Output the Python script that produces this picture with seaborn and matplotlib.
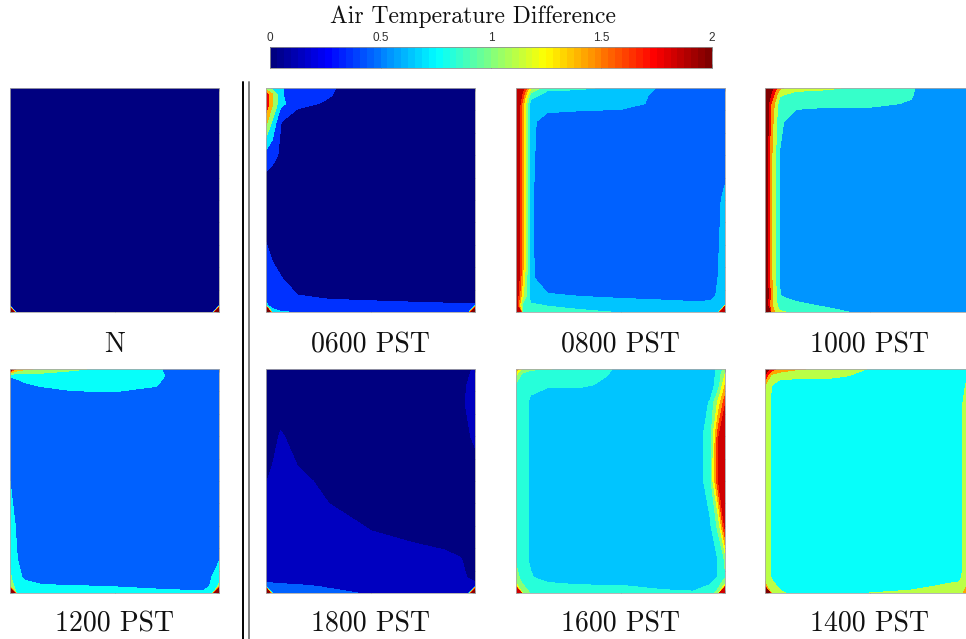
import numpy as np
import matplotlib
matplotlib.use("Agg")
import matplotlib.pyplot as plt
from matplotlib.colors import ListedColormap, Normalize
from matplotlib.lines import Line2D
from matplotlib.cm import ScalarMappable
import seaborn as sns

sns.set_theme(style="white")
plt.rcParams["axes.unicode_minus"] = False

# ---------------------------------------------------------------- data ----
# node positions across / down each square domain (0 = left / top edge)
grid_x = [0, 0.03, 0.07, 0.15, 0.3, 0.5, 0.7, 0.85, 0.93, 0.97, 1.0]
grid_y = [0, 0.03, 0.07, 0.15, 0.3, 0.5, 0.7, 0.85, 0.93, 0.97, 1.0]

panel_titles = ["N", "0600 PST", "0800 PST", "1000 PST",
                "1200 PST", "1800 PST", "1600 PST", "1400 PST"]
colorbar_ticks = [0, 0.5, 1, 1.5, 2]
colorbar_labels = ["0", "0.5", "1", "1.5", "2"]

# contour levels of each panel
levels_n = [0, 0.2, 0.4, 0.6, 0.8, 1.0, 1.2, 1.4, 1.6, 1.8, 2.0]
levels_0600 = [0, 0.35, 0.7, 1.05, 1.4, 1.75, 2.1]
levels_0800 = [0.45, 0.65, 0.85, 1.05, 1.25, 1.45, 1.65, 1.85]
levels_1000 = [0.55, 0.85, 1.15, 1.45, 1.75, 2.05]
levels_1200 = [0.45, 0.75, 1.05, 1.35, 1.65, 1.95]
levels_1800 = [0, 0.15, 0.45, 0.75, 1.05, 1.35, 1.65, 1.95]
levels_1600 = [0.625, 0.825, 1.025, 1.225, 1.425, 1.625, 1.825]
levels_1400 = [0.78, 1.1, 1.42, 1.74, 2.06]

# air temperature difference at the nodes, rows from top to bottom
temp_n = [
    [0, 0, 0, 0, 0, 0, 0, 0, 0, 0, 0],
    [0, 0, 0, 0, 0, 0, 0, 0, 0, 0, 0],
    [0, 0, 0, 0, 0, 0, 0, 0, 0, 0, 0],
    [0, 0, 0, 0, 0, 0, 0, 0, 0, 0, 0],
    [0, 0, 0, 0, 0, 0, 0, 0, 0, 0, 0],
    [0, 0, 0, 0, 0, 0, 0, 0, 0, 0, 0],
    [0, 0, 0, 0, 0, 0, 0, 0, 0, 0, 0],
    [0, 0, 0, 0, 0, 0, 0, 0, 0, 0, 0],
    [0, 0, 0, 0, 0, 0, 0, 0, 0, 0, 0],
    [0, 0, 0, 0, 0, 0, 0, 0, 0, 0, 0],
    [5, 0, 0, 0, 0, 0, 0, 0, 0, 0, 5],
]
temp_0600 = [
    [1.2, 0.9, 0.75, 0.45, 0.4, 0.1, 0, 0, 0, 0, 0],
    [2.0, 1.45, 0.75, 0.45, 0.38, 0.05, 0, 0, 0, 0, 0],
    [2.0, 1.45, 0.8, 0.45, 0.3, 0, 0, 0, 0, 0, 0],
    [1.5, 1.0, 0.36, 0.1, 0, 0, 0, 0, 0, 0, 0],
    [0.55, 0.45, 0.3, 0, 0, 0, 0, 0, 0, 0, 0],
    [0, 0, 0, 0, 0, 0, 0, 0, 0, 0, 0],
    [0.37, 0.2, 0, 0, 0, 0, 0, 0, 0, 0, 0],
    [0.6, 0.5, 0.38, 0.1, 0, 0, 0, 0, 0, 0, 0],
    [0.6, 0.55, 0.5, 0.37, 0.3, 0.25, 0.22, 0.2, 0.2, 0.2, 0.2],
    [0.75, 0.6, 0.5, 0.48, 0.45, 0.45, 0.42, 0.4, 0.4, 0.38, 0.4],
    [5, 0.8, 0.72, 0.68, 0.55, 0.5, 0.48, 0.45, 0.45, 0.5, 5],
]
temp_0800 = [
    [2.4, 2.0, 1.3, 0.9, 0.88, 0.8, 0.62, 0.55, 0.55, 0.55, 0.55],
    [2.3, 1.8, 0.95, 0.78, 0.76, 0.75, 0.6, 0.5, 0.5, 0.5, 0.5],
    [2.3, 1.6, 0.75, 0.75, 0.75, 0.72, 0.6, 0.5, 0.5, 0.5, 0.5],
    [2.2, 1.6, 0.7, 0.55, 0.5, 0.5, 0.5, 0.5, 0.5, 0.5, 0.5],
    [2.2, 1.6, 0.7, 0.5, 0.5, 0.5, 0.5, 0.5, 0.5, 0.5, 0.55],
    [2.2, 1.6, 0.68, 0.5, 0.5, 0.5, 0.5, 0.5, 0.5, 0.62, 0.7],
    [2.2, 1.6, 0.68, 0.5, 0.5, 0.5, 0.5, 0.5, 0.55, 0.64, 0.75],
    [2.2, 1.5, 0.7, 0.5, 0.5, 0.5, 0.5, 0.5, 0.55, 0.66, 0.8],
    [2.1, 1.3, 0.75, 0.68, 0.65, 0.62, 0.6, 0.58, 0.6, 0.68, 0.8],
    [2.0, 1.0, 0.88, 0.84, 0.8, 0.75, 0.72, 0.7, 0.7, 0.75, 0.85],
    [5, 1.0, 0.95, 0.92, 0.88, 0.84, 0.8, 0.78, 0.8, 0.85, 5],
]
temp_1000 = [
    [2.6, 2.2, 1.5, 1.3, 1.22, 1.0, 0.88, 0.6, 0.6, 0.6, 0.6],
    [2.5, 2.0, 1.2, 1.0, 0.95, 0.9, 0.87, 0.58, 0.58, 0.58, 0.58],
    [2.5, 1.7, 1.0, 0.92, 0.9, 0.9, 0.83, 0.55, 0.55, 0.55, 0.55],
    [2.5, 1.6, 0.9, 0.7, 0.65, 0.65, 0.55, 0.55, 0.55, 0.55, 0.55],
    [2.5, 1.5, 0.84, 0.6, 0.55, 0.55, 0.55, 0.55, 0.55, 0.55, 0.55],
    [2.5, 1.5, 0.84, 0.56, 0.55, 0.55, 0.55, 0.55, 0.55, 0.55, 0.55],
    [2.5, 1.5, 0.84, 0.56, 0.55, 0.55, 0.55, 0.55, 0.55, 0.55, 0.55],
    [2.5, 1.5, 0.84, 0.56, 0.55, 0.55, 0.55, 0.55, 0.55, 0.55, 0.55],
    [2.5, 1.6, 0.86, 0.75, 0.65, 0.58, 0.55, 0.55, 0.55, 0.55, 0.6],
    [2.4, 1.5, 1.0, 0.92, 0.8, 0.65, 0.58, 0.55, 0.55, 0.58, 0.7],
    [5, 1.6, 1.2, 1.05, 0.95, 0.75, 0.62, 0.6, 0.6, 0.7, 5],
]
temp_1200 = [
    [2.3, 1.6, 1.4, 1.3, 1.1, 0.95, 0.8, 0.5, 0.5, 0.5, 0.5],
    [0.78, 0.8, 0.85, 0.9, 0.9, 0.9, 0.85, 0.48, 0.45, 0.45, 0.45],
    [0.6, 0.65, 0.72, 0.78, 0.85, 0.85, 0.77, 0.45, 0.45, 0.45, 0.45],
    [0.5, 0.5, 0.5, 0.5, 0.55, 0.6, 0.55, 0.45, 0.45, 0.45, 0.45],
    [0.5, 0.45, 0.45, 0.45, 0.45, 0.45, 0.45, 0.45, 0.45, 0.45, 0.45],
    [0.75, 0.6, 0.5, 0.45, 0.45, 0.45, 0.45, 0.45, 0.45, 0.45, 0.45],
    [0.9, 0.72, 0.5, 0.45, 0.45, 0.45, 0.45, 0.45, 0.45, 0.45, 0.45],
    [1.0, 0.78, 0.55, 0.45, 0.45, 0.45, 0.45, 0.45, 0.45, 0.5, 0.72],
    [1.1, 0.85, 0.7, 0.55, 0.5, 0.48, 0.46, 0.45, 0.5, 0.78, 0.95],
    [1.2, 0.95, 0.85, 0.8, 0.77, 0.74, 0.68, 0.6, 0.58, 0.85, 1.1],
    [5, 1.0, 0.92, 0.9, 0.88, 0.86, 0.85, 0.85, 0.88, 1.0, 5],
]
temp_1800 = [
    [0, 0, 0, 0, 0, 0, 0, 0, 0, 0.1, 0.2],
    [0, 0, 0, 0, 0, 0, 0, 0, 0.05, 0.14, 0.22],
    [0, 0, 0, 0, 0, 0, 0, 0, 0.08, 0.17, 0.25],
    [0, 0, 0, 0, 0, 0, 0, 0, 0.1, 0.19, 0.28],
    [0, 0.05, 0.18, 0.05, 0, 0, 0, 0, 0.05, 0.13, 0.2],
    [0.14, 0.2, 0.25, 0.2, 0.1, 0, 0, 0, 0, 0, 0],
    [0.25, 0.25, 0.24, 0.22, 0.2, 0.14, 0.1, 0.05, 0, 0, 0],
    [0.25, 0.25, 0.24, 0.23, 0.22, 0.21, 0.2, 0.19, 0.16, 0.1, 0.05],
    [0.28, 0.26, 0.25, 0.24, 0.23, 0.22, 0.2, 0.2, 0.18, 0.14, 0.1],
    [0.6, 0.56, 0.53, 0.5, 0.42, 0.3, 0.28, 0.25, 0.22, 0.2, 0.2],
    [5, 0.6, 0.58, 0.56, 0.52, 0.42, 0.3, 0.25, 0.22, 0.25, 5],
]
temp_1600 = [
    [1.6, 1.15, 1.05, 1.04, 0.92, 0.8, 0.6, 0.6, 0.7, 0.9, 1.1],
    [1.2, 0.95, 0.9, 0.88, 0.88, 0.8, 0.6, 0.6, 0.7, 0.92, 1.25],
    [1.0, 0.9, 0.86, 0.85, 0.85, 0.78, 0.6, 0.6, 0.7, 0.95, 1.4],
    [0.95, 0.88, 0.8, 0.7, 0.7, 0.62, 0.62, 0.63, 0.85, 1.3, 1.75],
    [0.95, 0.88, 0.8, 0.63, 0.62, 0.62, 0.62, 0.66, 0.95, 1.8, 2.4],
    [0.95, 0.88, 0.8, 0.63, 0.62, 0.62, 0.62, 0.64, 0.95, 1.85, 2.4],
    [0.95, 0.88, 0.8, 0.63, 0.62, 0.62, 0.62, 0.62, 0.8, 1.1, 1.9],
    [1.0, 0.88, 0.8, 0.63, 0.62, 0.62, 0.62, 0.62, 0.7, 0.84, 1.05],
    [1.1, 0.95, 0.84, 0.75, 0.7, 0.66, 0.64, 0.64, 0.72, 0.85, 1.0],
    [1.3, 1.05, 0.95, 0.88, 0.85, 0.84, 0.78, 0.76, 0.85, 1.0, 1.3],
    [5, 1.2, 1.0, 0.95, 0.92, 0.9, 0.87, 0.85, 0.95, 1.1, 5],
]
temp_1400 = [
    [2.4, 1.9, 1.6, 1.45, 1.35, 1.08, 0.95, 0.9, 0.95, 1.0, 1.1],
    [2.0, 1.3, 1.22, 1.2, 1.2, 1.0, 0.85, 0.82, 0.9, 1.05, 1.3],
    [1.45, 1.12, 0.95, 0.9, 0.88, 0.85, 0.8, 0.8, 0.95, 1.15, 1.5],
    [1.3, 1.05, 0.9, 0.85, 0.8, 0.8, 0.8, 0.8, 0.95, 1.3, 1.6],
    [1.3, 1.05, 0.9, 0.85, 0.8, 0.8, 0.8, 0.8, 0.95, 1.3, 1.6],
    [1.3, 1.05, 0.9, 0.85, 0.8, 0.8, 0.8, 0.8, 0.95, 1.3, 1.6],
    [1.3, 1.05, 0.9, 0.85, 0.8, 0.8, 0.8, 0.8, 0.95, 1.3, 1.6],
    [1.3, 1.05, 0.9, 0.85, 0.8, 0.8, 0.8, 0.8, 0.95, 1.3, 1.6],
    [1.35, 1.08, 0.95, 0.85, 0.8, 0.8, 0.82, 0.9, 1.0, 1.35, 1.6],
    [1.5, 1.2, 1.05, 0.9, 0.85, 0.88, 0.97, 1.15, 1.2, 1.45, 1.7],
    [5, 1.3, 1.15, 1.0, 0.9, 1.1, 1.2, 1.3, 1.35, 1.5, 5],
]

panel_fields = [temp_n, temp_0600, temp_0800, temp_1000,
                temp_1200, temp_1800, temp_1600, temp_1400]
panel_levels = [levels_n, levels_0600, levels_0800, levels_1000,
                levels_1200, levels_1800, levels_1600, levels_1400]

# ------------------------------------------------------------- styling ----
W, H = 966, 639
fig = plt.figure(figsize=(W / 100, H / 100), dpi=100, facecolor="white")

# 64-step jet built from its anchor colours (one every eighth of the range)
jet_anchors = ["#000080", "#0000ff", "#0080ff", "#00ffff", "#80ff80",
               "#ffff00", "#ff8000", "#ff0000", "#800000"]
jet64 = ListedColormap(sns.blend_palette(jet_anchors, n_colors=64))
norm = Normalize(vmin=0, vmax=2, clip=True)


def fig_box(left, top, width, height):
    return [left / W, 1 - (top + height) / H, width / W, height / H]


col_left = [10, 266, 516, 765]
row_top = [88, 369]
pw, ph = 209, 224
label_y = [345, 624]

X, Y = np.meshgrid(grid_x, grid_y)
serif = "cmr10"

for k, (field, levels, title) in enumerate(zip(panel_fields, panel_levels,
                                                panel_titles)):
    r, c = divmod(k, 4)
    ax = fig.add_axes(fig_box(col_left[c], row_top[r], pw, ph))
    Z = np.array(field, dtype=float)
    bounds = [-100.0] + list(levels[1:]) + [100.0]
    colors = [jet64(norm(v)) for v in levels]
    ax.contourf(X, Y, Z, levels=bounds, colors=colors, antialiased=False)
    ax.set_xlim(0, 1)
    ax.set_ylim(1, 0)
    ax.set_xticks([0, 0.5, 1])
    ax.set_yticks(np.linspace(0, 1, 11))
    ax.tick_params(direction="in", length=2.5, width=0.6, colors="#505050",
                   top=True, right=True, bottom=True, left=True,
                   labelleft=False, labelbottom=False)
    for sp in ax.spines.values():
        sp.set_color("#a8a8a8")
        sp.set_linewidth(0.6)
    ax.grid(False)
    fig.text((col_left[c] + pw / 2) / W, 1 - label_y[r] / H, title,
             ha="center", va="center", fontsize=20, family=serif,
             color="#111111")

# colour bar across the top
cax = fig.add_axes(fig_box(270, 47, 442, 21))
sm = ScalarMappable(norm=norm, cmap=jet64)
cb = fig.colorbar(sm, cax=cax, orientation="horizontal")
cb.set_ticks(colorbar_ticks)
cb.set_ticklabels(colorbar_labels)
cax.tick_params(axis="x", direction="in", length=3, width=0.6,
                colors="#303030", top=True, bottom=True,
                labeltop=True, labelbottom=False, pad=2, labelsize=8.5)
for lab in cax.get_xticklabels():
    lab.set_family("Liberation Sans")
cb.outline.set_edgecolor("#909090")
cb.outline.set_linewidth(0.6)
fig.text(473 / W, 1 - 17 / H, "Air Temperature Difference", ha="center",
         va="center", fontsize=17, family=serif, color="#111111")

# double rule separating the reference case from the hourly cases
fig.add_artist(Line2D([242.5 / W] * 2, [0, 1 - 82 / H],
                      transform=fig.transFigure, color="black", lw=1.4))
fig.add_artist(Line2D([248.7 / W] * 2, [0, 1 - 82 / H],
                      transform=fig.transFigure, color="#808080", lw=1.4))

fig.savefig("out.png", dpi=100, facecolor="white")
